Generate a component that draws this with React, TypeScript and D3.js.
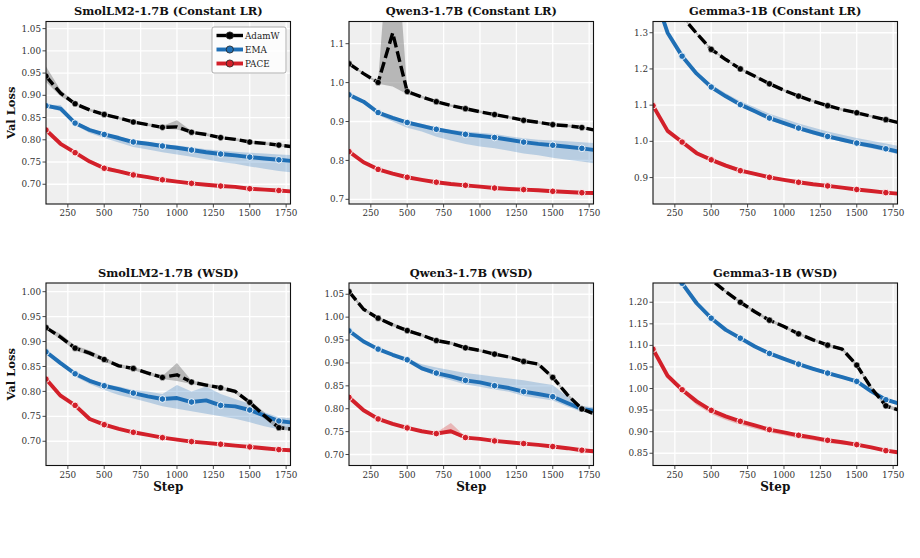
import React from 'react';
import * as d3 from 'd3';

const steps = [100, 200, 300, 400, 500, 600, 700, 800, 900, 1000, 1100, 1200, 1300, 1400, 1500, 1600, 1700, 1780];
const xTicks = [250, 500, 750, 1000, 1250, 1500, 1750];
const markerIdx = [0, 2, 4, 6, 8, 10, 12, 14, 16];

// ---- SmolLM2-1.7B (Constant LR)
const smolC_adamw = [0.943, 0.905, 0.881, 0.867, 0.857, 0.849, 0.840, 0.834, 0.828, 0.829, 0.817, 0.812, 0.805, 0.801, 0.795, 0.792, 0.788, 0.785];
const smolC_adamwHi = [0.965, 0.912, 0.884, 0.870, 0.860, 0.852, 0.843, 0.837, 0.831, 0.844, 0.820, 0.815, 0.808, 0.804, 0.798, 0.795, 0.791, 0.788];
const smolC_adamwLo = [0.930, 0.898, 0.878, 0.864, 0.854, 0.846, 0.837, 0.831, 0.825, 0.823, 0.814, 0.809, 0.802, 0.798, 0.792, 0.789, 0.785, 0.782];
const smolC_ema = [0.8765, 0.870, 0.8375, 0.822, 0.812, 0.804, 0.795, 0.791, 0.786, 0.782, 0.777, 0.772, 0.768, 0.765, 0.761, 0.758, 0.755, 0.7525];
const smolC_emaHi = [0.879, 0.878, 0.842, 0.826, 0.815, 0.808, 0.799, 0.795, 0.790, 0.787, 0.783, 0.779, 0.776, 0.773, 0.771, 0.769, 0.767, 0.766];
const smolC_emaLo = [0.874, 0.864, 0.833, 0.815, 0.804, 0.794, 0.784, 0.778, 0.772, 0.767, 0.762, 0.756, 0.750, 0.746, 0.740, 0.735, 0.730, 0.727];
const smolC_pace = [0.822, 0.791, 0.771, 0.751, 0.736, 0.729, 0.721, 0.716, 0.710, 0.706, 0.702, 0.699, 0.696, 0.694, 0.690, 0.688, 0.686, 0.684];
const smolC_paceHi = [0.824, 0.793, 0.774, 0.755, 0.741, 0.733, 0.725, 0.719, 0.713, 0.709, 0.705, 0.701, 0.698, 0.696, 0.692, 0.690, 0.688, 0.686];
const smolC_paceLo = [0.820, 0.789, 0.769, 0.749, 0.734, 0.727, 0.719, 0.714, 0.708, 0.704, 0.700, 0.697, 0.694, 0.692, 0.688, 0.686, 0.684, 0.682];

// ---- Qwen3-1.7B (Constant LR)
const qwenC_adamw = [1.0485, 1.023, 1.0004, 1.1275, 0.977, 0.963, 0.951, 0.941, 0.933, 0.925, 0.918, 0.911, 0.903, 0.898, 0.892, 0.889, 0.8845, 0.8785];
const qwenC_adamwHi = [1.052, 1.026, 1.003, 1.50, 0.981, 0.966, 0.954, 0.944, 0.936, 0.928, 0.921, 0.914, 0.906, 0.901, 0.895, 0.892, 0.888, 0.882];
const qwenC_adamwLo = [1.045, 1.020, 0.997, 0.990, 0.970, 0.960, 0.948, 0.938, 0.930, 0.922, 0.915, 0.908, 0.900, 0.895, 0.889, 0.886, 0.881, 0.875];
const qwenC_ema = [0.9687, 0.951, 0.923, 0.9095, 0.8974, 0.889, 0.880, 0.8734, 0.867, 0.863, 0.859, 0.853, 0.847, 0.8425, 0.839, 0.835, 0.831, 0.827];
const qwenC_emaHi = [0.971, 0.954, 0.926, 0.913, 0.901, 0.894, 0.885, 0.879, 0.874, 0.871, 0.868, 0.862, 0.857, 0.853, 0.851, 0.849, 0.847, 0.845];
const qwenC_emaLo = [0.967, 0.948, 0.917, 0.900, 0.884, 0.874, 0.861, 0.851, 0.842, 0.836, 0.831, 0.825, 0.818, 0.813, 0.807, 0.802, 0.797, 0.793];
const qwenC_pace = [0.8227, 0.7953, 0.777, 0.766, 0.7567, 0.750, 0.744, 0.7395, 0.736, 0.7326, 0.729, 0.7266, 0.725, 0.7232, 0.7206, 0.719, 0.717, 0.7163];
const qwenC_paceHi = [0.825, 0.797, 0.779, 0.768, 0.759, 0.752, 0.746, 0.741, 0.738, 0.735, 0.731, 0.729, 0.727, 0.725, 0.723, 0.721, 0.719, 0.718];
const qwenC_paceLo = [0.821, 0.793, 0.775, 0.764, 0.755, 0.748, 0.742, 0.738, 0.734, 0.731, 0.727, 0.725, 0.723, 0.721, 0.719, 0.717, 0.715, 0.714];

// ---- Gemma3-1B (Constant LR)
const gemmaC_adamw = [1.55, 1.43, 1.345, 1.298, 1.254, 1.226, 1.200, 1.180, 1.159, 1.141, 1.125, 1.111, 1.0986, 1.0875, 1.079, 1.069, 1.060, 1.0524];
const gemmaC_adamwHi = [1.553, 1.433, 1.348, 1.301, 1.257, 1.229, 1.203, 1.183, 1.162, 1.144, 1.128, 1.114, 1.102, 1.091, 1.082, 1.072, 1.063, 1.056];
const gemmaC_adamwLo = [1.547, 1.427, 1.342, 1.295, 1.251, 1.223, 1.197, 1.177, 1.156, 1.138, 1.122, 1.108, 1.096, 1.084, 1.076, 1.066, 1.057, 1.049];
const gemmaC_ema = [1.42, 1.30, 1.2353, 1.187, 1.150, 1.1245, 1.1014, 1.083, 1.0644, 1.0506, 1.0367, 1.0247, 1.0136, 1.0044, 0.9952, 0.9878, 0.9794, 0.972];
const gemmaC_emaHi = [1.424, 1.304, 1.240, 1.193, 1.157, 1.133, 1.111, 1.094, 1.076, 1.063, 1.049, 1.038, 1.027, 1.018, 1.009, 1.002, 0.994, 0.988];
const gemmaC_emaLo = [1.416, 1.296, 1.231, 1.183, 1.146, 1.120, 1.097, 1.078, 1.059, 1.045, 1.031, 1.019, 1.008, 0.999, 0.989, 0.981, 0.972, 0.965];
const gemmaC_pace = [1.0986, 1.029, 0.998, 0.9674, 0.949, 0.933, 0.919, 0.910, 0.9007, 0.8935, 0.887, 0.8815, 0.877, 0.8723, 0.867, 0.863, 0.8584, 0.8556];
const gemmaC_paceHi = [1.101, 1.031, 1.001, 0.972, 0.955, 0.939, 0.925, 0.915, 0.905, 0.897, 0.890, 0.884, 0.879, 0.874, 0.869, 0.865, 0.860, 0.857];
const gemmaC_paceLo = [1.096, 1.027, 0.996, 0.965, 0.946, 0.930, 0.916, 0.907, 0.898, 0.891, 0.885, 0.879, 0.875, 0.870, 0.865, 0.861, 0.856, 0.854];

// ---- SmolLM2-1.7B (WSD)
const smolW_adamw = [0.928, 0.909, 0.8867, 0.8767, 0.864, 0.8513, 0.846, 0.8367, 0.828, 0.8333, 0.8187, 0.8127, 0.8073, 0.800, 0.778, 0.7513, 0.7273, 0.7247];
const smolW_adamwHi = [0.931, 0.915, 0.892, 0.882, 0.868, 0.855, 0.849, 0.840, 0.831, 0.857, 0.822, 0.816, 0.810, 0.804, 0.783, 0.758, 0.731, 0.728];
const smolW_adamwLo = [0.925, 0.904, 0.882, 0.872, 0.860, 0.848, 0.843, 0.833, 0.825, 0.821, 0.815, 0.809, 0.804, 0.796, 0.773, 0.745, 0.723, 0.721];
const smolW_ema = [0.8793, 0.8567, 0.8353, 0.8213, 0.8113, 0.8047, 0.7967, 0.790, 0.7847, 0.7867, 0.7787, 0.782, 0.772, 0.770, 0.7627, 0.7513, 0.7407, 0.738];
const smolW_emaHi = [0.882, 0.860, 0.838, 0.825, 0.815, 0.810, 0.803, 0.800, 0.795, 0.813, 0.800, 0.810, 0.795, 0.785, 0.775, 0.758, 0.748, 0.746];
const smolW_emaLo = [0.876, 0.853, 0.830, 0.815, 0.803, 0.793, 0.786, 0.778, 0.770, 0.765, 0.760, 0.755, 0.750, 0.745, 0.738, 0.730, 0.724, 0.722];
const smolW_pace = [0.8247, 0.7913, 0.772, 0.7447, 0.7333, 0.7247, 0.718, 0.7127, 0.7073, 0.7033, 0.6993, 0.6967, 0.694, 0.6913, 0.6887, 0.686, 0.6833, 0.682];
const smolW_paceHi = [0.827, 0.793, 0.774, 0.747, 0.735, 0.727, 0.720, 0.715, 0.709, 0.705, 0.701, 0.699, 0.696, 0.693, 0.691, 0.688, 0.685, 0.684];
const smolW_paceLo = [0.823, 0.789, 0.770, 0.743, 0.731, 0.723, 0.716, 0.711, 0.705, 0.701, 0.697, 0.695, 0.692, 0.689, 0.687, 0.684, 0.681, 0.680];

// ---- Qwen3-1.7B (WSD)
const qwenW_adamw = [1.0558, 1.0173, 0.9977, 0.9832, 0.9708, 0.9607, 0.949, 0.9432, 0.9331, 0.9273, 0.9193, 0.9127, 0.9033, 0.8975, 0.8684, 0.8307, 0.7995, 0.7893];
const qwenW_adamwHi = [1.059, 1.021, 1.001, 0.987, 0.974, 0.964, 0.952, 0.947, 0.936, 0.930, 0.922, 0.916, 0.906, 0.901, 0.872, 0.834, 0.803, 0.793];
const qwenW_adamwLo = [1.053, 1.014, 0.995, 0.980, 0.968, 0.958, 0.946, 0.940, 0.930, 0.924, 0.916, 0.910, 0.900, 0.894, 0.865, 0.827, 0.796, 0.786];
const qwenW_ema = [0.970, 0.9469, 0.9302, 0.9178, 0.9069, 0.888, 0.8779, 0.8706, 0.8619, 0.8576, 0.8503, 0.8452, 0.8372, 0.8321, 0.8263, 0.8125, 0.7995, 0.7958];
const qwenW_emaHi = [0.972, 0.949, 0.932, 0.920, 0.909, 0.897, 0.890, 0.884, 0.878, 0.874, 0.870, 0.866, 0.862, 0.857, 0.852, 0.826, 0.806, 0.803];
const qwenW_emaLo = [0.968, 0.945, 0.928, 0.916, 0.905, 0.884, 0.871, 0.862, 0.853, 0.848, 0.842, 0.837, 0.828, 0.823, 0.818, 0.805, 0.793, 0.791];
const qwenW_pace = [0.8249, 0.7966, 0.7777, 0.7668, 0.7581, 0.7508, 0.7457, 0.7508, 0.737, 0.7341, 0.7297, 0.7268, 0.7239, 0.721, 0.7174, 0.7138, 0.7094, 0.7072];
const qwenW_paceHi = [0.827, 0.799, 0.780, 0.769, 0.760, 0.753, 0.748, 0.769, 0.739, 0.736, 0.732, 0.729, 0.726, 0.723, 0.720, 0.716, 0.712, 0.709];
const qwenW_paceLo = [0.823, 0.794, 0.775, 0.764, 0.756, 0.748, 0.743, 0.746, 0.735, 0.732, 0.727, 0.725, 0.722, 0.719, 0.715, 0.712, 0.707, 0.705];

// ---- Gemma3-1B (WSD)
const gemmaW_adamw = [1.52, 1.43, 1.36, 1.30, 1.252, 1.2247, 1.200, 1.178, 1.1584, 1.1437, 1.1268, 1.1129, 1.1005, 1.0913, 1.0543, 1.001, 0.960, 0.951];
const gemmaW_adamwHi = [1.523, 1.433, 1.363, 1.303, 1.255, 1.228, 1.203, 1.181, 1.162, 1.147, 1.130, 1.116, 1.104, 1.095, 1.058, 1.005, 0.964, 0.955];
const gemmaW_adamwLo = [1.517, 1.427, 1.357, 1.297, 1.249, 1.222, 1.197, 1.175, 1.155, 1.140, 1.124, 1.110, 1.097, 1.088, 1.051, 0.997, 0.956, 0.947];
const gemmaW_ema = [1.43, 1.33, 1.244, 1.1977, 1.163, 1.136, 1.1167, 1.0975, 1.0813, 1.0689, 1.0566, 1.0458, 1.0358, 1.0265, 1.0165, 0.9934, 0.974, 0.9664];
const gemmaW_emaHi = [1.433, 1.333, 1.247, 1.201, 1.166, 1.139, 1.120, 1.101, 1.085, 1.073, 1.060, 1.050, 1.040, 1.030, 1.020, 0.997, 0.978, 0.970];
const gemmaW_emaLo = [1.427, 1.327, 1.241, 1.195, 1.160, 1.133, 1.114, 1.094, 1.078, 1.066, 1.053, 1.042, 1.032, 1.023, 1.013, 0.990, 0.971, 0.963];
const gemmaW_pace = [1.0913, 1.0296, 0.9972, 0.9702, 0.9494, 0.9355, 0.924, 0.9147, 0.9047, 0.8985, 0.8916, 0.8862, 0.880, 0.8754, 0.870, 0.8638, 0.8561, 0.8523];
const gemmaW_paceHi = [1.094, 1.032, 0.999, 0.972, 0.951, 0.937, 0.926, 0.917, 0.907, 0.900, 0.893, 0.888, 0.882, 0.877, 0.872, 0.866, 0.858, 0.854];
const gemmaW_paceLo = [1.089, 1.027, 0.992, 0.962, 0.941, 0.927, 0.916, 0.907, 0.898, 0.892, 0.885, 0.880, 0.874, 0.870, 0.866, 0.860, 0.853, 0.850];

const titles = [
  'SmolLM2-1.7B (Constant LR)', 'Qwen3-1.7B (Constant LR)', 'Gemma3-1B (Constant LR)',
  'SmolLM2-1.7B (WSD)', 'Qwen3-1.7B (WSD)', 'Gemma3-1B (WSD)',
];
const yDomains = [
  [0.6556, 1.066], [0.688, 1.157], [0.827, 1.331],
  [0.6514, 1.0174], [0.676, 1.0746], [0.8216, 1.2446],
];
const yTickSets = [
  [0.70, 0.75, 0.80, 0.85, 0.90, 0.95, 1.00, 1.05],
  [0.7, 0.8, 0.9, 1.0, 1.1],
  [0.9, 1.0, 1.1, 1.2, 1.3],
  [0.70, 0.75, 0.80, 0.85, 0.90, 0.95, 1.00],
  [0.70, 0.75, 0.80, 0.85, 0.90, 0.95, 1.00, 1.05],
  [0.85, 0.90, 0.95, 1.00, 1.05, 1.10, 1.15, 1.20],
];
const yTickFormats = ['.2f', '.1f', '.1f', '.2f', '.2f', '.2f'];
const seriesNames = ['AdamW', 'EMA', 'PACE'];

const panelData = [
  [[smolC_adamw, smolC_adamwLo, smolC_adamwHi], [smolC_ema, smolC_emaLo, smolC_emaHi], [smolC_pace, smolC_paceLo, smolC_paceHi]],
  [[qwenC_adamw, qwenC_adamwLo, qwenC_adamwHi], [qwenC_ema, qwenC_emaLo, qwenC_emaHi], [qwenC_pace, qwenC_paceLo, qwenC_paceHi]],
  [[gemmaC_adamw, gemmaC_adamwLo, gemmaC_adamwHi], [gemmaC_ema, gemmaC_emaLo, gemmaC_emaHi], [gemmaC_pace, gemmaC_paceLo, gemmaC_paceHi]],
  [[smolW_adamw, smolW_adamwLo, smolW_adamwHi], [smolW_ema, smolW_emaLo, smolW_emaHi], [smolW_pace, smolW_paceLo, smolW_paceHi]],
  [[qwenW_adamw, qwenW_adamwLo, qwenW_adamwHi], [qwenW_ema, qwenW_emaLo, qwenW_emaHi], [qwenW_pace, qwenW_paceLo, qwenW_paceHi]],
  [[gemmaW_adamw, gemmaW_adamwLo, gemmaW_adamwHi], [gemmaW_ema, gemmaW_emaLo, gemmaW_emaHi], [gemmaW_pace, gemmaW_paceLo, gemmaW_paceHi]],
];

const STYLE = [
  { color: '#000000', band: '#7f7f7f', bandOp: 0.5, width: 3.4, dash: '11,4', mr: 3.1, mStroke: '#ffffff', mSW: 0.5 },
  { color: '#1f6fb5', band: '#2a78bd', bandOp: 0.28, width: 3.9, dash: null, mr: 3.3, mStroke: '#ffffff', mSW: 0.9 },
  { color: '#d3202a', band: '#d62728', bandOp: 0.28, width: 3.9, dash: null, mr: 3.3, mStroke: '#ffffff', mSW: 0.9 },
];

const FONT = 'DejaVu Serif';
const colX = [46, 349, 653];
const rowY = [21.5, 283];
const PW = 244.5;
const PH = 182.5;

function Panel({ idx }: { idx: number }) {
  const col = idx % 3;
  const row = Math.floor(idx / 3);
  const x0 = colX[col];
  const y0 = rowY[row];
  const x = d3.scaleLinear().domain([100, 1780]).range([x0, x0 + PW]);
  const y = d3.scaleLinear().domain(yDomains[idx]).range([y0 + PH, y0]);
  const fmt = d3.format(yTickFormats[idx]);
  const clipId = `clip${idx}`;
  const line = d3.line<number>().x((_, i) => x(steps[i])).y((d) => y(d));
  const ser = panelData[idx];
  return (
    <g>
      <defs>
        <clipPath id={clipId}>
          <rect x={x0} y={y0} width={PW} height={PH} />
        </clipPath>
      </defs>
      <rect x={x0} y={y0} width={PW} height={PH} fill="#efefef" />
      <g clipPath={`url(#${clipId})`}>
        {xTicks.map((t) => (
          <line key={'gx' + t} x1={x(t)} x2={x(t)} y1={y0} y2={y0 + PH} stroke="#ffffff" strokeWidth={1.3} />
        ))}
        {yTickSets[idx].map((t) => (
          <line key={'gy' + t} x1={x0} x2={x0 + PW} y1={y(t)} y2={y(t)} stroke="#ffffff" strokeWidth={1.3} />
        ))}
        {ser.map((s, si) => {
          const [mean, lo, hi] = s;
          const a = d3.area<number>().x((_, i) => x(steps[i])).y0((_, i) => y(lo[i])).y1((_, i) => y(hi[i]));
          return <path key={'b' + si} d={a(mean) || ''} fill={STYLE[si].band} fillOpacity={STYLE[si].bandOp} stroke="none" />;
        }).reverse()}
        {[2, 1, 0].map((si) => {
          const st = STYLE[si];
          const mean = ser[si][0];
          return (
            <g key={'l' + si}>
              <path d={line(mean) || ''} fill="none" stroke={st.color} strokeWidth={st.width}
                strokeDasharray={st.dash || undefined} strokeLinejoin="round" />
              {markerIdx.map((mi) => (
                <circle key={mi} cx={x(steps[mi])} cy={y(mean[mi])} r={st.mr} fill={st.color}
                  stroke={st.mStroke} strokeWidth={st.mSW} />
              ))}
            </g>
          );
        })}
      </g>
      <rect x={x0} y={y0} width={PW} height={PH} fill="none" stroke="#111" strokeWidth={1.1} />
      {xTicks.map((t) => (
        <g key={'tx' + t}>
          <line x1={x(t)} x2={x(t)} y1={y0 + PH} y2={y0 + PH + 3.5} stroke="#333" strokeWidth={0.9} />
          <text x={x(t)} y={y0 + PH + 12.3} textAnchor="middle" fontFamily={FONT} fontSize={8.8} fill="#333">{t}</text>
        </g>
      ))}
      {yTickSets[idx].map((t) => (
        <g key={'ty' + t}>
          <line x1={x0 - 3.5} x2={x0} y1={y(t)} y2={y(t)} stroke="#333" strokeWidth={0.9} />
          <text x={x0 - 5} y={y(t) + 3.1} textAnchor="end" fontFamily={FONT} fontSize={8.8} fill="#333">{fmt(t)}</text>
        </g>
      ))}
      <text x={x0 + PW / 2} y={y0 - 6.3} textAnchor="middle" fontFamily={FONT} fontWeight="bold" fontSize={11.4} fill="#111">
        {titles[idx]}
      </text>
      {col === 0 && (
        <text transform={`translate(${15},${y0 + PH / 2}) rotate(-90)`} textAnchor="middle" fontFamily={FONT}
          fontWeight="bold" fontSize={11.5} fill="#111">Val Loss</text>
      )}
      {row === 1 && (
        <text x={x0 + PW / 2} y={y0 + PH + 25} textAnchor="middle" fontFamily={FONT} fontWeight="bold" fontSize={12} fill="#111">Step</text>
      )}
    </g>
  );
}

function Legend() {
  const lx = 212, ly = 27, lw = 74, lh = 46;
  return (
    <g>
      <rect x={lx} y={ly} width={lw} height={lh} rx={2} fill="#ffffff" fillOpacity={0.8} stroke="#999" strokeWidth={0.8} />
      {seriesNames.map((n, i) => {
        const st = STYLE[i];
        const yy = ly + 8.5 + i * 14;
        return (
          <g key={n}>
            <line x1={lx + 4.5} x2={lx + 31} y1={yy} y2={yy} stroke={st.color} strokeWidth={st.width} />
            <circle cx={lx + 17.8} cy={yy} r={3.6} fill={st.color} stroke="#222" strokeWidth={0.8} />
            <text x={lx + 33} y={yy + 3.2} fontFamily={FONT} fontSize={8.8} fill="#222">{n}</text>
          </g>
        );
      })}
    </g>
  );
}

export default function App() {
  return (
    <svg width={920} height={558} viewBox="0 0 920 558" style={{ position: 'absolute', left: 0, top: 0, background: '#fff' }}>
      <rect x={0} y={0} width={920} height={558} fill="#ffffff" />
      {[0, 1, 2, 3, 4, 5].map((i) => <Panel key={i} idx={i} />)}
      <Legend />
    </svg>
  );
}
